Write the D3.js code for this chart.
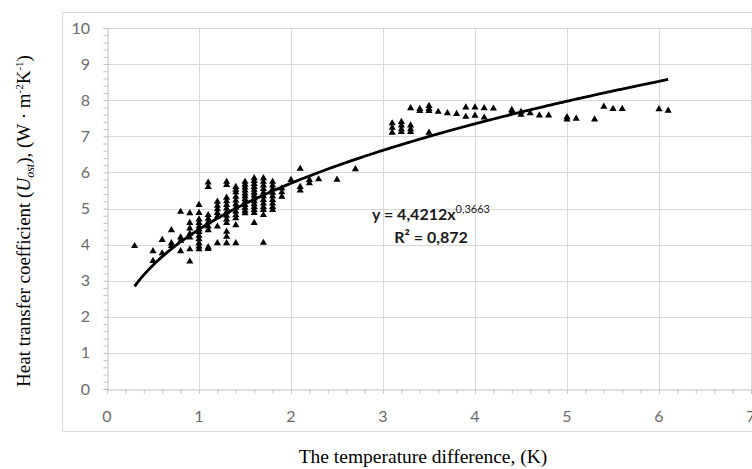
<!DOCTYPE html>
<html>
<head>
<meta charset="utf-8">
<script src="https://cdn.jsdelivr.net/npm/d3@7"></script>
<style>
  body { margin: 0; background: #fff; }
</style>
</head>
<body>
<div id="chart"></div>
<script>
// DATA ===========================================================================================
// temperature difference levels (K) and the measured coefficients at each level
const tempLevels = [0.3, 0.5, 0.6, 0.7, 0.8, 0.9, 1.0, 1.1, 1.2, 1.3, 1.4, 1.5, 1.6, 1.7, 1.8, 1.9,
  2.0, 2.1, 2.2, 2.3, 2.5, 2.7, 3.1, 3.2, 3.3, 3.4, 3.5, 3.6, 3.7, 3.8, 3.9, 4.0, 4.1, 4.2,
  4.4, 4.5, 4.6, 4.7, 4.8, 5.0, 5.1, 5.3, 5.4, 5.5, 5.6, 6.0, 6.1]
const coeffValues = [
  [3.96],
  [3.82, 3.55],
  [4.13, 3.76],
  [4.4, 4.04, 3.96],
  [4.91, 4.2, 4.1, 3.82],
  [4.87, 4.6, 4.45, 4.3, 4.2, 3.87, 3.53],
  [5.1, 4.88, 4.7, 4.6, 4.5, 4.42, 4.35, 4.25, 4.15, 4.04, 3.95, 3.87],
  [5.72, 5.6, 4.82, 4.72, 4.62, 4.5, 4.4, 3.93, 3.88],
  [5.19, 5.08, 4.98, 4.88, 4.78, 4.5, 4.04],
  [5.74, 5.65, 5.3, 5.2, 5.1, 5.0, 4.9, 4.8, 4.7, 4.6, 4.36, 4.22, 4.04],
  [5.6, 5.52, 5.45, 5.33, 5.22, 5.12, 5.02, 4.92, 4.82, 4.73, 4.54, 4.04],
  [5.74, 5.66, 5.58, 5.5, 5.42, 5.34, 5.26, 5.18, 5.1, 5.02, 4.94, 4.87],
  [5.84, 5.76, 5.68, 5.6, 5.52, 5.44, 5.36, 5.28, 5.2, 5.12, 5.04, 4.96, 4.88, 4.6],
  [5.84, 5.74, 5.64, 5.54, 5.44, 5.34, 5.24, 5.14, 5.04, 4.96, 4.82, 4.05],
  [5.74, 5.64, 5.54, 5.44, 5.34, 5.24, 5.14, 5.04, 4.96],
  [5.56, 5.45, 5.33],
  [5.79],
  [6.1, 5.6, 5.5],
  [5.79, 5.7],
  [5.81],
  [5.8],
  [6.09],
  [7.36, 7.24, 7.1],
  [7.4, 7.3, 7.2, 7.12],
  [7.78, 7.3, 7.2, 7.12],
  [7.76, 7.7],
  [7.84, 7.76, 7.7, 7.1],
  [7.68],
  [7.64],
  [7.62],
  [7.8, 7.54],
  [7.8, 7.57],
  [7.78, 7.52],
  [7.77],
  [7.73, 7.66],
  [7.68, 7.6],
  [7.64],
  [7.58],
  [7.58],
  [7.53, 7.47],
  [7.49],
  [7.47],
  [7.82],
  [7.76],
  [7.76],
  [7.75],
  [7.71]
]
const xTicks = [0, 1, 2, 3, 4, 5, 6, 7]
const yTicks = [0, 1, 2, 3, 4, 5, 6, 7, 8, 9, 10]

// power trendline y = a * x^b, as printed on the chart
const trendA = 4.4212
const trendB = 0.3663
const trendRange = [0.3, 6.1]

const data = []
tempLevels.forEach((t, i) => coeffValues[i].forEach(v => data.push({ x: t, y: v })))

// SET UP =========================================================================================
const width = 752
const height = 469
const gridColor = '#d9d9d9'
const tickColor = '#bfbfbf'
const labelColor = '#6b6b6b'

const svg = d3.select('#chart')
  .append('svg')
  .attr('width', width)
  .attr('height', height)
  .style('font-family', 'Lato, "Open Sans", sans-serif')

// chart frame
svg.append('rect')
  .attr('x', 62.5)
  .attr('y', 12.5)
  .attr('width', 720)
  .attr('height', 419)
  .attr('fill', 'none')
  .attr('stroke', gridColor)

// SCALES AND AXES ================================================================================
const x = d3.scaleLinear().domain([0, 7]).range([107, 751])
const y = d3.scaleLinear().domain([0, 10]).range([389, 28])

// gridlines
svg.append('g')
  .selectAll('line')
  .data(yTicks.slice(1))
  .join('line')
    .attr('x1', x(0)).attr('x2', x(7))
    .attr('y1', d => Math.round(y(d)) + 0.5).attr('y2', d => Math.round(y(d)) + 0.5)
    .attr('stroke', gridColor)

svg.append('g')
  .selectAll('line')
  .data(xTicks.slice(1))
  .join('line')
    .attr('x1', d => Math.round(x(d)) + 0.5).attr('x2', d => Math.round(x(d)) + 0.5)
    .attr('y1', y(0)).attr('y2', y(10))
    .attr('stroke', gridColor)

// axes with minor ticks
const xAxis = svg.append('g')
  .attr('transform', `translate(0, ${Math.round(y(0)) + 0.5})`)
  .call(d3.axisBottom(x).tickValues(d3.range(0, 7.01, 0.2)).tickSize(4).tickFormat(''))
xAxis.select('.domain').attr('stroke', tickColor)
xAxis.selectAll('.tick line').attr('stroke', tickColor)

const yAxis = svg.append('g')
  .attr('transform', `translate(${Math.round(x(0)) + 0.5}, 0)`)
  .call(d3.axisLeft(y).tickValues(d3.range(0, 10.01, 0.2)).tickSize(4).tickFormat(''))
yAxis.select('.domain').attr('stroke', tickColor)
yAxis.selectAll('.tick line').attr('stroke', tickColor)

// tick labels
svg.append('g')
  .selectAll('text')
  .data(xTicks)
  .join('text')
    .attr('x', d => x(d))
    .attr('y', 422)
    .attr('text-anchor', 'middle')
    .attr('fill', labelColor)
    .style('font-size', '16px')
    .text(d => d)

svg.append('g')
  .selectAll('text')
  .data(yTicks)
  .join('text')
    .attr('x', 90)
    .attr('y', d => y(d) + 5.5)
    .attr('text-anchor', 'end')
    .attr('fill', labelColor)
    .style('font-size', '16px')
    .text(d => d)

// axis titles
svg.append('text')
  .attr('x', 423)
  .attr('y', 463)
  .attr('text-anchor', 'middle')
  .style('font-family', '"Liberation Serif", "Times New Roman", serif')
  .style('font-size', '19.5px')
  .attr('fill', '#000')
  .text('The temperature difference, (K)')

const yTitle = svg.append('text')
  .attr('transform', 'translate(30, 221) rotate(-90)')
  .attr('text-anchor', 'middle')
  .style('font-family', '"Liberation Serif", "Times New Roman", serif')
  .style('font-size', '19px')
  .attr('fill', '#000')
yTitle.append('tspan').text('Heat transfer coefficient (')
yTitle.append('tspan').style('font-style', 'italic').text('U')
yTitle.append('tspan').style('font-style', 'italic').style('font-size', '12px').attr('dy', 4).text('ost')
yTitle.append('tspan').attr('dy', -4).text('), (W · m')
yTitle.append('tspan').style('font-size', '11px').attr('dy', -7).text('-2')
yTitle.append('tspan').attr('dy', 7).text('K')
yTitle.append('tspan').style('font-size', '11px').attr('dy', -7).text('-1')
yTitle.append('tspan').attr('dy', 7).text(')')

// MARKS ==========================================================================================
svg.append('g')
  .selectAll('path')
  .data(data)
  .join('path')
    .attr('transform', d => `translate(${x(d.x)}, ${y(d.y)})`)
    .attr('d', d3.symbol(d3.symbolTriangle, 22))
    .attr('fill', '#000')

const trendPts = d3.range(trendRange[0], trendRange[1] + 0.001, 0.05)
  .map(t => ({ x: t, y: trendA * Math.pow(t, trendB) }))

svg.append('path')
  .datum(trendPts)
  .attr('d', d3.line().x(d => x(d.x)).y(d => y(d.y)).curve(d3.curveMonotoneX))
  .attr('fill', 'none')
  .attr('stroke', '#000')
  .attr('stroke-width', 2.8)

// equation label
const eq = svg.append('g')
  .style('font-size', '16px')
  .style('font-weight', 'bold')
  .attr('fill', '#1a1a1a')
const eq1 = eq.append('text')
  .attr('x', 431)
  .attr('y', 220)
  .attr('text-anchor', 'middle')
eq1.append('tspan').text('y = 4,4212x')
eq1.append('tspan').style('font-size', '11px').style('font-weight', 'normal').attr('dy', -7).text('0,3663')
eq.append('text')
  .attr('x', 431)
  .attr('y', 243)
  .attr('text-anchor', 'middle')
  .text('R² = 0,872')
</script>
</body>
</html>
